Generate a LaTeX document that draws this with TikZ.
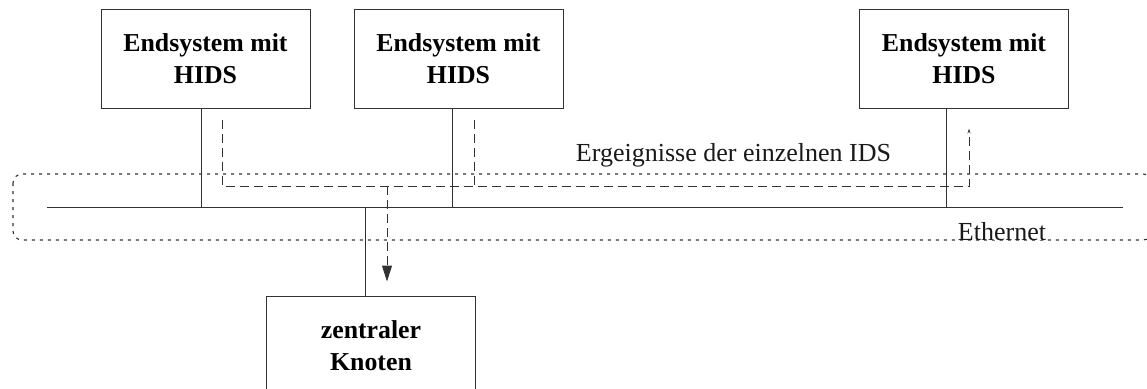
\documentclass[tikz,border=0pt]{standalone}
\usepackage{fontspec}
\setmainfont{Liberation Serif}
\usetikzlibrary{arrows.meta,calc}
\begin{document}
\begin{tikzpicture}[x=1pt,y=-1pt,
  sysbox/.style={draw=black!80, line width=1pt, minimum width=209pt, minimum height=99pt, align=center, font=\fontsize{25.8}{32}\selectfont\bfseries, inner sep=0pt},
  wire/.style={draw=black!80, line width=1pt},
  evt/.style={draw=black!80, line width=1pt, dash pattern=on 9pt off 5pt},
  zone/.style={draw=black!80, line width=1.1pt, dash pattern=on 3pt off 5pt, rounded corners=9pt},
  lbl/.style={font=\fontsize{26}{30}\selectfont, inner sep=0pt, text=black!90}]
\useasboundingbox (0,0) rectangle (1147,388);
% zone
\draw[zone] (13,174) rectangle (1152,240);
% boxes
\node[sysbox] (b1) at (205.5,58.5) {Endsystem mit\\HIDS};
\node[sysbox] (b2) at (458.5,58.5) {Endsystem mit\\HIDS};
\node[sysbox] (b3) at (964,58.5) {Endsystem mit\\HIDS};
\node[sysbox] (z) at (371,345.5) {zentraler\\Knoten};
% ethernet
\coordinate (ethL) at (47,207);
\coordinate (ethR) at (1123,207);
\draw[wire] (ethL) -- (ethR);
\draw[wire] ([xshift=-4.5pt]b1.south) -- ([xshift=-4.5pt]b1.south |- ethL);
\draw[wire] ([xshift=-5.8pt]b2.south) -- ([xshift=-5.8pt]b2.south |- ethL);
\draw[wire] ([xshift=-17.3pt]b3.south) -- ([xshift=-17.3pt]b3.south |- ethL);
\draw[wire] ([xshift=-6pt]z.north) -- ([xshift=-6pt]z.north |- ethL);
% events
\coordinate (bus) at (0,186);
\coordinate (d1) at ([xshift=16.5pt,yshift=-11pt]b1.south);
\coordinate (d3) at ([xshift=5pt,yshift=-20pt]b3.south);
\draw[evt,-{Stealth[length=5pt,width=3pt]}] (d1) -- (d1 |- bus) -- (d3 |- bus) -- (d3);
\draw[evt] ([xshift=15.5pt,yshift=-11pt]b2.south) -- ([xshift=15.5pt]b2.south |- bus);
\draw[evt,-{Triangle[length=16pt,width=10pt]}] ([xshift=16pt]z.north |- bus) -- ([xshift=16pt,yshift=14pt]z.north);
% labels
\node[lbl,anchor=base] (ev) at (733.5,161) {Ergeignisse der einzelnen IDS};
\node[lbl,anchor=base,fill=white] (eth) at (1002,240) {Ethernet};
\end{tikzpicture}
\end{document}
